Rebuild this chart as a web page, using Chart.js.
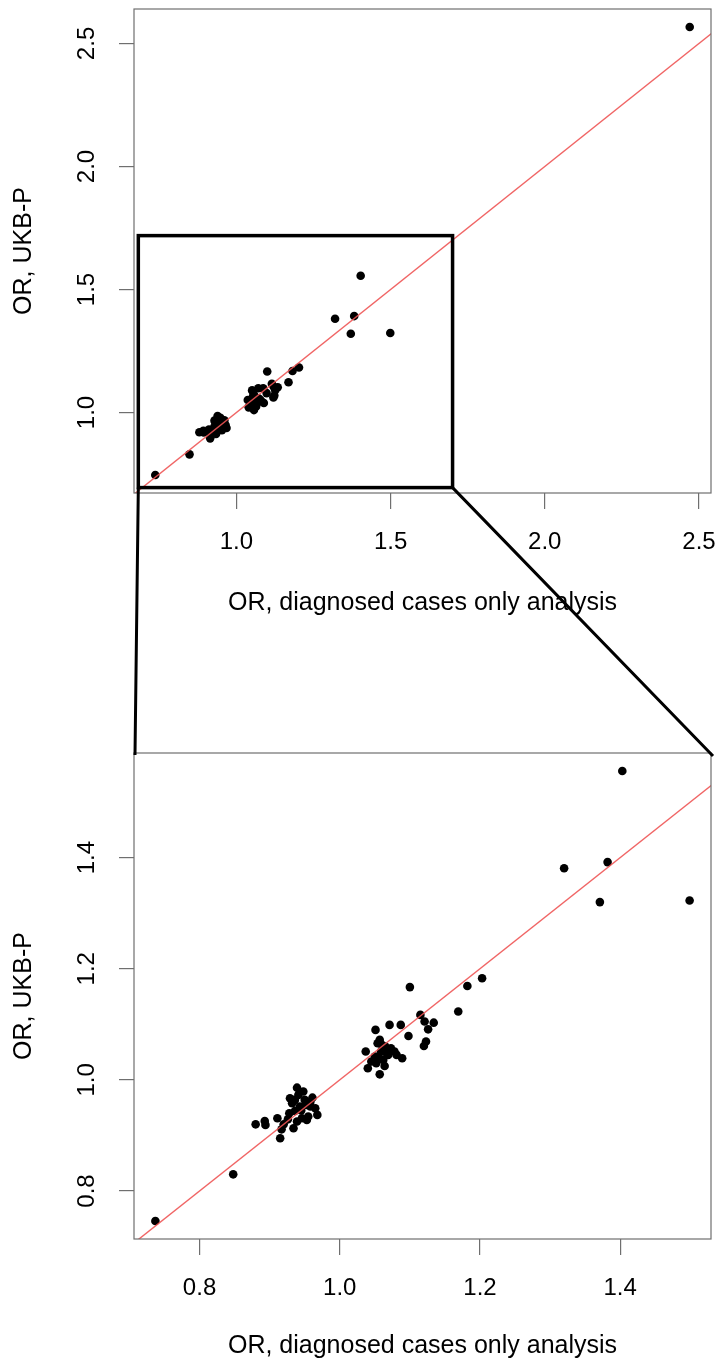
<!DOCTYPE html>
<html>
<head>
<meta charset="utf-8">
<script src="https://cdn.jsdelivr.net/npm/chart.js@4.4.0/dist/chart.umd.min.js"></script>
<style>
  html, body { margin: 0; padding: 0; background: #fff; }
  #wrap { position: relative; width: 716px; height: 1365px; overflow: hidden; }
  #wrap canvas { position: absolute; left: 0; }
  #chartTop { top: 0; }
  #chartZoom { top: 700px; }
  #overlay { top: 0; pointer-events: none; }
</style>
</head>
<body>
<div id="wrap">
  <canvas id="chartTop" width="716" height="620"></canvas>
  <canvas id="chartZoom" width="716" height="665"></canvas>
  <canvas id="overlay" width="716" height="1365"></canvas>
</div>
<script>
// OR per variant : diagnosed cases only analysis (x) vs UKB-P (y)
const orDiagnosed = [
  0.737, 0.848, 0.880, 0.893, 0.894, 0.911, 0.915, 0.917, 0.920, 0.926,
  0.928, 0.929, 0.932, 0.934, 0.936, 0.936, 0.939, 0.939, 0.941, 0.943,
  0.945, 0.946, 0.948, 0.950, 0.952, 0.953, 0.955, 0.958, 0.958, 0.961,
  0.965, 0.968,
  1.037, 1.040, 1.045, 1.050, 1.051, 1.052, 1.054, 1.055, 1.057, 1.057,
  1.059, 1.060, 1.062, 1.064, 1.065, 1.066, 1.069, 1.071, 1.073, 1.078,
  1.081, 1.087, 1.089, 1.098, 1.100, 1.115, 1.120, 1.121, 1.123, 1.126,
  1.134, 1.169, 1.182, 1.203,
  1.320, 1.371, 1.382, 1.403, 1.499,
  2.470
];
const orUkbp = [
  0.746, 0.830, 0.920, 0.926, 0.919, 0.931, 0.895, 0.911, 0.920, 0.929,
  0.940, 0.967, 0.958, 0.913, 0.964, 0.944, 0.986, 0.925, 0.973, 0.952,
  0.945, 0.931, 0.979, 0.964, 0.955, 0.928, 0.934, 0.952, 0.960, 0.968,
  0.949, 0.937,
  1.051, 1.021, 1.033, 1.042, 1.090, 1.030, 1.066, 1.042, 1.072, 1.010,
  1.051, 1.063, 1.036, 1.025, 1.060, 1.050, 1.045, 1.099, 1.057, 1.051,
  1.045, 1.099, 1.039, 1.079, 1.167, 1.117, 1.061, 1.105, 1.069, 1.091,
  1.103, 1.123, 1.169, 1.183,
  1.381, 1.320, 1.392, 1.556, 1.323,
  2.567
];

// axes
const xLimTop = [0.668, 2.539];
const yLimTop = [0.673, 2.640];
const xTicksTop = [1.0, 1.5, 2.0, 2.5];
const yTicksTop = [1.0, 1.5, 2.0, 2.5];

const xLimZoom = [0.7065, 1.5295];
const yLimZoom = [0.7136, 1.5884];
const xTicksZoom = [0.8, 1.0, 1.2, 1.4];
const yTicksZoom = [0.8, 1.0, 1.2, 1.4];

// zoomed region marked on the top panel
const zoomBoxX = [0.682, 1.701];
const zoomBoxY = [0.695, 1.719];

// y = x reference line
const identity = [0.5, 3.0];

const xTitle = 'OR, diagnosed cases only analysis';
const yTitle = 'OR, UKB-P';

Chart.defaults.font.family = '"Liberation Sans", Arial, Helvetica, sans-serif';
Chart.defaults.color = '#000';

const AXIS_GREY = '#6f6f6f';

function pointsUpTo(maxX) {
    const pts = [];
    orDiagnosed.forEach((x, i) => {
        if (x <= maxX) pts.push({ x: x, y: orUkbp[i] });
    });
    return pts;
}

const framePlugin = {
    id: 'frame',
    afterDatasetsDraw(chart) {
        const a = chart.chartArea;
        const ctx = chart.ctx;
        ctx.save();
        ctx.strokeStyle = AXIS_GREY;
        ctx.lineWidth = 1.2;
        ctx.strokeRect(a.left, a.top, a.right - a.left, a.bottom - a.top);
        ctx.restore();
    }
};

function buildConfig(xLim, yLim, xTicks, yTicks, pad, xAxisH, extraPlugins) {
    return {
        type: 'scatter',
        data: {
            datasets: [
                {
                    type: 'line',
                    data: identity.map(v => ({ x: v, y: v })),
                    borderColor: 'rgba(238, 84, 84, 0.9)',
                    borderWidth: 1.4,
                    pointRadius: 0,
                    fill: false,
                    order: 0
                },
                {
                    data: pointsUpTo(xLim[1]),
                    backgroundColor: '#000',
                    borderWidth: 0,
                    pointRadius: 4.3,
                    order: 1
                }
            ]
        },
        options: {
            responsive: false,
            animation: false,
            events: [],
            layout: { padding: pad },
            plugins: { legend: { display: false }, tooltip: { enabled: false } },
            scales: {
                x: {
                    type: 'linear',
                    min: xLim[0],
                    max: xLim[1],
                    afterBuildTicks: s => { s.ticks = xTicks.map(v => ({ value: v })); },
                    afterFit: s => {
                        s.height = xAxisH;
                        s.paddingLeft = 0; s.paddingRight = 0;
                    },
                    grid: { drawOnChartArea: false, drawTicks: true, tickLength: 16, color: AXIS_GREY, lineWidth: 1.2 },
                    border: { display: false },
                    ticks: {
                        autoSkip: false, maxRotation: 0, padding: 19,
                        font: { size: 24 },
                        callback: v => Number(v).toFixed(1)
                    },
                    title: { display: true, text: xTitle, font: { size: 25 }, padding: { top: 0, bottom: 0 } }
                },
                y: {
                    type: 'linear',
                    min: yLim[0],
                    max: yLim[1],
                    afterBuildTicks: s => { s.ticks = yTicks.map(v => ({ value: v })); },
                    afterFit: s => {
                        s.width = 134;
                        s.paddingTop = 0; s.paddingBottom = 0;
                    },
                    grid: { drawOnChartArea: false, drawTicks: true, tickLength: 15, color: AXIS_GREY, lineWidth: 1.2 },
                    border: { display: false },
                    ticks: {
                        autoSkip: false, minRotation: 90, maxRotation: 90,
                        crossAlign: 'center', padding: 15,
                        font: { size: 24 },
                        callback: v => Number(v).toFixed(1)
                    },
                    title: { display: true, text: yTitle, font: { size: 25 }, padding: { top: 9, bottom: 0 } }
                }
            }
        },
        plugins: [framePlugin].concat(extraPlugins)
    };
}

const zoomBoxPlugin = {
    id: 'zoomBox',
    afterDraw(chart) {
        const xs = chart.scales.x, ys = chart.scales.y;
        const x0 = xs.getPixelForValue(zoomBoxX[0]);
        const x1 = xs.getPixelForValue(zoomBoxX[1]);
        const y0 = ys.getPixelForValue(zoomBoxY[0]);
        const y1 = ys.getPixelForValue(zoomBoxY[1]);
        const ctx = chart.ctx;
        ctx.save();
        ctx.strokeStyle = '#000';
        ctx.lineWidth = 3.5;
        ctx.strokeRect(x0, y1, x1 - x0, y0 - y1);
        ctx.restore();
    }
};

const chartTop = new Chart(document.getElementById('chartTop'),
    buildConfig(xLimTop, yLimTop, xTicksTop, yTicksTop,
        { top: 9, right: 5, bottom: 2, left: 0 }, 125, [zoomBoxPlugin]));

// lines joining the marked box to the zoomed panel
const connectorPlugin = {
    id: 'connectors',
    afterDraw(chart) {
        const offTop = document.getElementById('chartTop').offsetTop;
        const offZoom = document.getElementById('chartZoom').offsetTop;
        const xs = chartTop.scales.x, ys = chartTop.scales.y;
        const bx0 = xs.getPixelForValue(zoomBoxX[0]);
        const bx1 = xs.getPixelForValue(zoomBoxX[1]);
        const by = ys.getPixelForValue(zoomBoxY[0]) + offTop;
        const a = chart.chartArea;

        const ctx = document.getElementById('overlay').getContext('2d');
        ctx.clearRect(0, 0, 716, 1365);
        ctx.strokeStyle = '#000';
        ctx.lineWidth = 3;
        ctx.beginPath();
        ctx.moveTo(bx0, by);
        ctx.lineTo(a.left + 1, a.top + offZoom + 2);
        ctx.moveTo(bx1, by);
        ctx.lineTo(a.right + 2, a.top + offZoom + 3);
        ctx.stroke();
    }
};

const chartZoom = new Chart(document.getElementById('chartZoom'),
    buildConfig(xLimZoom, yLimZoom, xTicksZoom, yTicksZoom,
        { top: 53, right: 5, bottom: 4, left: 0 }, 122, [connectorPlugin]));
</script>
</body>
</html>
